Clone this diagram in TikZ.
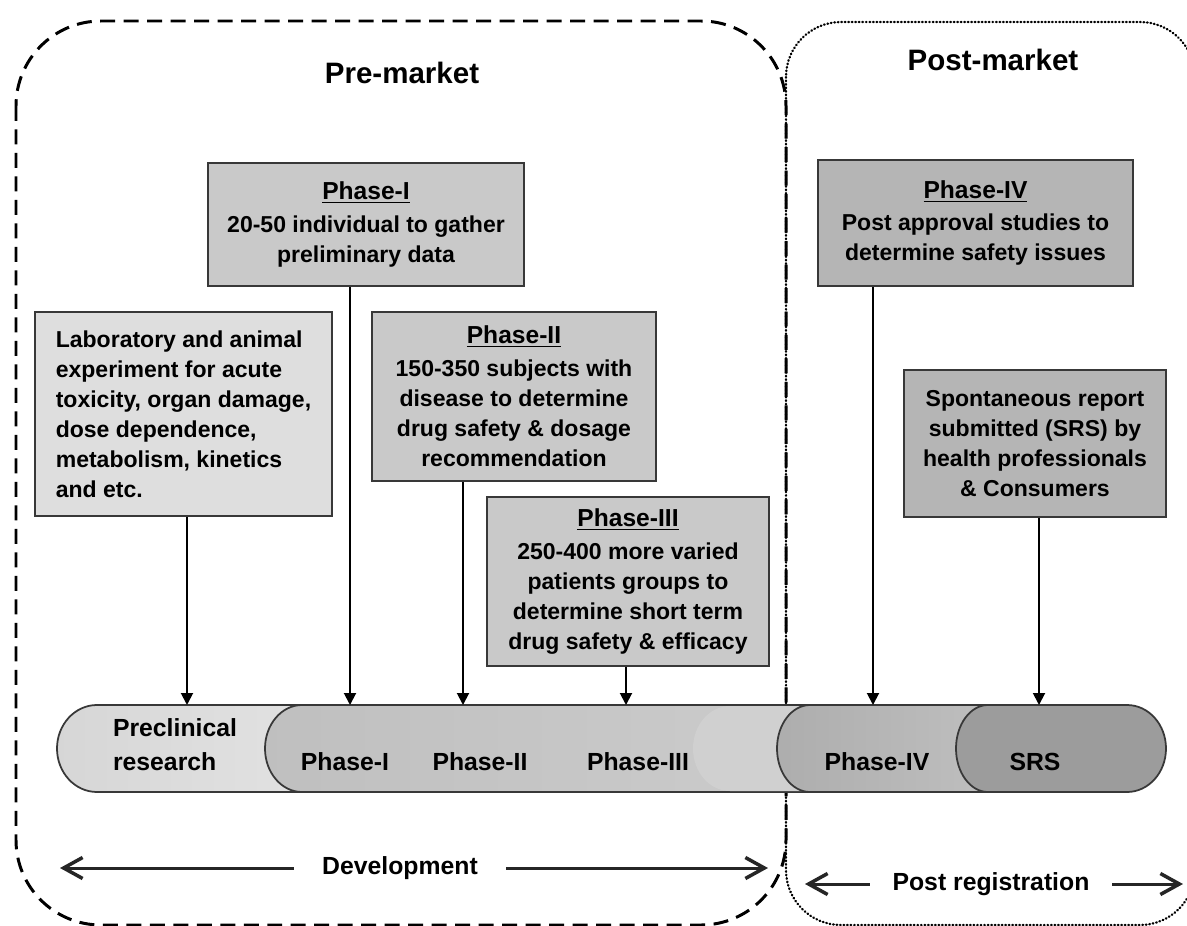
\documentclass[tikz,border=0pt]{standalone}
\usepackage{fontspec}
\setmainfont{Liberation Sans}
\usetikzlibrary{arrows.meta}
\definecolor{EdgeGray}{gray}{0.22}
\definecolor{LabGray}{gray}{0.87}
\definecolor{TrialGray}{gray}{0.79}
\definecolor{PostGray}{gray}{0.71}
\definecolor{PreclinL}{gray}{0.84}
\definecolor{PreclinR}{gray}{0.89}
\definecolor{BandL}{gray}{0.75}
\definecolor{BandR}{gray}{0.80}
\definecolor{PatchGray}{gray}{0.815}
\definecolor{FourL}{gray}{0.68}
\definecolor{FourR}{gray}{0.75}
\definecolor{SrsGray}{gray}{0.61}
\newcommand{\phasehead}[1]{{\fontsize{14}{17}\selectfont\underline{#1}}}
\tikzset{
  premarket/.style={line width=1.7pt, dash pattern=on 0.3cm off 0.17cm, rounded corners=1.7cm},
  postmarket/.style={line width=1.3pt, dash pattern=on 0.4pt off 1.6pt, line cap=round, rounded corners=1.1cm},
  heading/.style={font=\fontsize{16.8}{20}\selectfont\bfseries},
  infobox/.style={draw=EdgeGray, line width=1.1pt, inner sep=0pt, align=center,
    font=\fontsize{13.1}{17.1}\selectfont\bfseries},
  bandpart/.style={draw=EdgeGray, line width=1pt},
  bandlabel/.style={font=\fontsize{14.1}{19.4}\selectfont\bfseries},
  feed/.style={line width=1.1pt, -{Triangle[length=2.4mm,width=2.4mm]}},
  spanlabel/.style={font=\fontsize{14.1}{17}\selectfont\bfseries, inner ysep=0pt},
  spanarrow/.style={line width=1.7pt, color=black!85, -{Straight Barb[length=3.8mm,width=4.2mm,line width=2pt]}}
}
\begin{document}
\begin{tikzpicture}[x=0.02cm, y=-0.02cm]
\useasboundingbox (0,0) rectangle (1187,926);

% market frames
\draw[premarket] (16,21) rectangle (786,925);
\draw[postmarket] (786,22) rectangle (1195,925);
\node[heading] (pretitle) at (402,73) {Pre-market};
\node[heading] (posttitle) at (993,60) {Post-market};

% upper boxes
\node[infobox, fill=TrialGray, minimum width=6.32cm, minimum height=2.46cm] (ph1) at (366,224.5)
  {\phasehead{Phase-I}\\[1.5pt] 20-50 individual to gather\\ preliminary data};
\node[infobox, fill=PostGray, minimum width=6.30cm, minimum height=2.52cm] (ph4) at (975.5,223)
  {\phasehead{Phase-IV}\\[1.5pt] Post approval studies to\\ determine safety issues};
\node[infobox, align=left, fill=LabGray, minimum width=5.94cm, minimum height=4.08cm] (lab) at (183.5,414)
  {Laboratory and animal\\ experiment for acute\\ toxicity, organ damage,\\ dose dependence,\\ metabolism, kinetics\\ and etc.};
\node[infobox, fill=TrialGray, minimum width=5.68cm, minimum height=3.38cm] (ph2) at (514,396.5)
  {\phasehead{Phase-II}\\[1.5pt] 150-350 subjects with\\ disease to determine\\ drug safety \& dosage\\ recommendation};
\node[infobox, fill=TrialGray, minimum width=5.64cm, minimum height=3.38cm] (ph3) at (628,581.5)
  {\phasehead{Phase-III}\\[1.5pt] 250-400 more varied\\ patients groups to\\ determine short term\\ drug safety \& efficacy};
\node[infobox, fill=PostGray, minimum width=5.24cm, minimum height=2.94cm] (srs) at (1035,443.5)
  {Spontaneous report\\ submitted (SRS) by\\ health professionals\\ \& Consumers};

% timeline band
\path[bandpart, left color=PreclinL, right color=PreclinR]
  (97,792) arc[start angle=90, end angle=270, x radius=40, y radius=43.5] -- (330,705) -- (330,792) -- cycle;
\path[bandpart, left color=BandL, right color=BandR]
  (302,792) arc[start angle=90, end angle=270, x radius=37, y radius=43.5] -- (830,705) -- (830,792) -- cycle;
\fill[PatchGray] (730,791) arc[start angle=90, end angle=270, x radius=37, y radius=42.5] -- (830,706) -- (830,791) -- cycle;
\path[bandpart, left color=FourL, right color=FourR]
  (810,792) arc[start angle=90, end angle=270, x radius=33, y radius=43.5] -- (1000,705) -- (1000,792) -- cycle;
\path[bandpart, fill=SrsGray]
  (988,792) arc[start angle=90, end angle=270, x radius=32, y radius=43.5] -- (1127,705)
  arc[start angle=270, end angle=450, x radius=39, y radius=43.5] -- cycle;

\node[bandlabel, align=left] (bpre) at (175,745) {Preclinical\\research};
\node[bandlabel] (b1) at (345,762) {Phase-I};
\node[bandlabel] (b2) at (480,762) {Phase-II};
\node[bandlabel] (b3) at (638,762) {Phase-III};
\node[bandlabel] (b4) at (877,762) {Phase-IV};
\node[bandlabel] (bsrs) at (1035,762) {SRS};

% feeds into the band
\coordinate (in0) at (187,705);
\coordinate (in1) at (350,705);
\coordinate (in2) at (463,705);
\coordinate (in3) at (626,705);
\coordinate (in4) at (873,705);
\coordinate (in5) at (1039,705);
\draw[feed] (lab.south -| in0) -- (in0);
\draw[feed] (ph1.south -| in1) -- (in1);
\draw[feed] (ph2.south -| in2) -- (in2);
\draw[feed] (ph3.south -| in3) -- (in3);
\draw[feed] (ph4.south -| in4) -- (in4);
\draw[feed] (srs.south -| in5) -- (in5);

% spans
\node[spanlabel, inner xsep=0.56cm] (dev) at (400,868) {Development};
\coordinate (devL) at (60,868);
\coordinate (devR) at (768,868);
\draw[spanarrow] (dev) -- (devL);
\draw[spanarrow] (dev) -- (devR);
\node[spanlabel, inner xsep=0.45cm] (reg) at (991,884) {Post registration};
\coordinate (regL) at (805,884);
\coordinate (regR) at (1183,884);
\draw[spanarrow] (reg) -- (regL);
\draw[spanarrow] (reg) -- (regR);
\end{tikzpicture}
\end{document}
